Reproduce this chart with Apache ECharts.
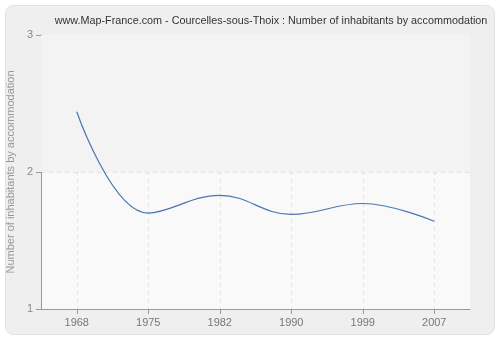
<!DOCTYPE html>
<html><head><meta charset="utf-8">
<script src="https://cdn.jsdelivr.net/npm/echarts@6/dist/echarts.min.js"></script>
<style>html,body{margin:0;padding:0;background:#fff}#c{width:500px;height:340px}</style>
</head><body><div id="c"></div>
<script>
const years = ['1968','1975','1982','1990','1999','2007'];
const values = [2.44, 1.70, 1.83, 1.69, 1.77, 1.64];
const yTicks = [1, 2, 3];
const titleText = 'www.Map-France.com - Courcelles-sous-Thoix : Number of inhabitants by accommodation';
const yName = 'Number of inhabitants by accommodation';

const chart = echarts.init(document.getElementById('c'), null, {renderer: 'canvas'});
const font = 'Liberation Sans, Arial, sans-serif';
chart.setOption({
  animation: false,
  backgroundColor: '#fff',
  graphic: [{
    type: 'rect', z: -10, silent: true,
    shape: {x: 5.5, y: 5.5, width: 489, height: 329, r: 8},
    style: {fill: '#efefef', stroke: '#e2e2e2', lineWidth: 1}
  }],
  title: {
    text: titleText, left: 266, top: 11, textAlign: 'center',
    textStyle: {fontFamily: font, fontSize: 10.8, fontWeight: 'normal', color: '#333'}
  },
  grid: {left: 41, right: 30, top: 35, bottom: 31, show: true, backgroundColor: '#f9f9f9', borderWidth: 0,
    outerBoundsMode: 'none', containLabel: false},
  xAxis: {
    type: 'category', data: years, boundaryGap: true,
    axisLine: {show: true, lineStyle: {color: '#999', width: 1}},
    axisTick: {show: true, alignWithLabel: true, length: 5, lineStyle: {color: '#999'}},
    axisLabel: {color: '#777', fontFamily: font, fontSize: 11, margin: 8},
    splitLine: {show: true, alignWithLabel: true, lineStyle: {color: '#e2e2e2', type: [4, 4]}}
  },
  yAxis: {
    type: 'value', min: 1, max: 3, interval: 1,
    name: yName, nameLocation: 'middle', nameGap: 20, nameRotate: 90,
    nameTextStyle: {color: '#999', fontFamily: font, fontSize: 11},
    axisLine: {show: true, lineStyle: {color: '#999', width: 1}},
    axisTick: {show: true, length: 5, lineStyle: {color: '#999'}},
    axisLabel: {color: '#888', fontFamily: font, fontSize: 11, margin: 8,
      formatter: v => yTicks.includes(v) ? String(v) : ''},
    splitLine: {show: true, lineStyle: {color: '#e2e2e2', type: [4, 4]}}
  },
  series: [{
    type: 'line', data: values, smooth: 0.4, symbol: 'none',
    lineStyle: {color: '#4a76ad', width: 1.2},
    markArea: {silent: true, itemStyle: {color: '#f3f3f3'}, data: [[{yAxis: 2}, {yAxis: 3}]]}
  }]
});
</script></body></html>
